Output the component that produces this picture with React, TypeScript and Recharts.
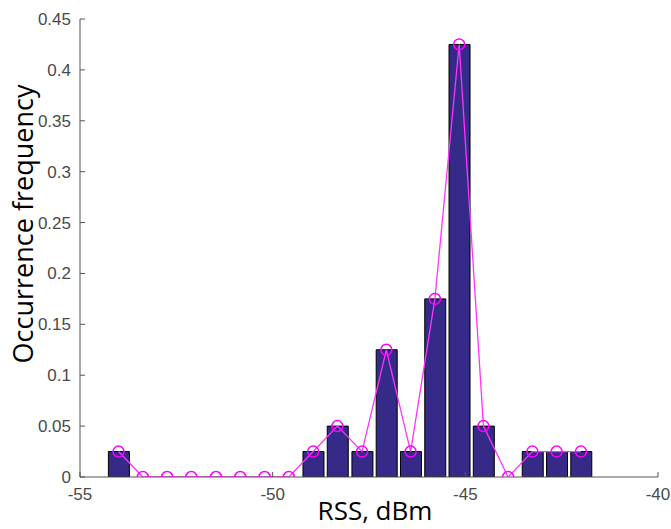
import {
  ComposedChart,
  Bar,
  Line,
  XAxis,
  YAxis,
} from 'recharts';

// bin centres (dBm) and relative frequency of each bin
const binCenters = [
  -54, -53.37, -52.74, -52.11, -51.47, -50.84, -50.21, -49.58, -48.95, -48.32,
  -47.68, -47.05, -46.42, -45.79, -45.16, -44.53, -43.89, -43.26, -42.63, -42,
];
const frequency = [
  0.025, 0, 0, 0, 0, 0, 0, 0, 0.025, 0.05,
  0.025, 0.125, 0.025, 0.175, 0.425, 0.05, 0, 0.025, 0.025, 0.025,
];
const xTicks = [-55, -50, -45, -40];
const yTicks = [0, 0.05, 0.1, 0.15, 0.2, 0.25, 0.3, 0.35, 0.4, 0.45];

const data = binCenters.map((x, i) => ({ x, freq: frequency[i] }));

const axisColor = '#555555';
const tickFont = {
  fontSize: 17,
  fontFamily: '"Liberation Sans", Arial, sans-serif',
  fill: '#4a4a4a',
};
const labelFamily = '"Open Sans", sans-serif';

function XLabel({ viewBox }: any) {
  const { x, y, width, height } = viewBox;
  return (
    <text
      x={x + width / 2 + 6}
      y={y + height - 9}
      textAnchor="middle"
      fontSize={26}
      fontFamily={labelFamily}
      fill="#000"
    >
      RSS, dBm
    </text>
  );
}

function YLabel({ viewBox }: any) {
  const { x, y, height } = viewBox;
  const cx = x + 13;
  const cy = y + height / 2 - 24;
  return (
    <text
      x={cx}
      y={cy}
      transform={`rotate(-90, ${cx}, ${cy})`}
      textAnchor="middle"
      fontSize={27}
      fontFamily={labelFamily}
      fill="#000"
    >
      Occurrence frequency
    </text>
  );
}

export default function App() {
  return (
    <div style={{ position: 'absolute', left: 0, top: 0, background: '#fff' }}>
      <ComposedChart
        width={671}
        height={529}
        data={data}
        margin={{ top: 19, right: 13, left: 20, bottom: 0 }}
      >
        <XAxis
          dataKey="x"
          type="number"
          domain={[-55, -40]}
          ticks={xTicks}
          allowDataOverflow
          height={52}
          stroke={axisColor}
          tickSize={-5}
          tickMargin={16}
          tick={tickFont}
          label={{ content: XLabel }}
        />
        <XAxis
          xAxisId="top"
          orientation="top"
          type="number"
          domain={[-55, -40]}
          ticks={xTicks}
          allowDataOverflow
          height={0}
          stroke={axisColor}
          tickSize={-5}
          tick={false}
        />
        <YAxis
          type="number"
          domain={[0, 0.45]}
          ticks={yTicks}
          allowDataOverflow
          width={60}
          stroke={axisColor}
          tickSize={-5}
          tickMargin={14}
          tick={tickFont}
          tickFormatter={(v: number) => String(+v.toFixed(2))}
          label={{ content: YLabel }}
        />
        <YAxis
          yAxisId="right"
          orientation="right"
          type="number"
          domain={[0, 0.45]}
          ticks={yTicks}
          allowDataOverflow
          width={0}
          stroke={axisColor}
          tickSize={-5}
          tick={false}
        />
        <Bar
          dataKey="freq"
          barSize={21}
          fill="#352a87"
          stroke="#000000"
          strokeWidth={1}
          isAnimationActive={false}
        />
        <Line
          dataKey="freq"
          type="linear"
          stroke="#ff33ff"
          strokeWidth={1.3}
          dot={{ r: 5.5, stroke: '#ff00ff', strokeWidth: 1.5, fill: 'none' }}
          activeDot={false}
          isAnimationActive={false}
        />
      </ComposedChart>
    </div>
  );
}
